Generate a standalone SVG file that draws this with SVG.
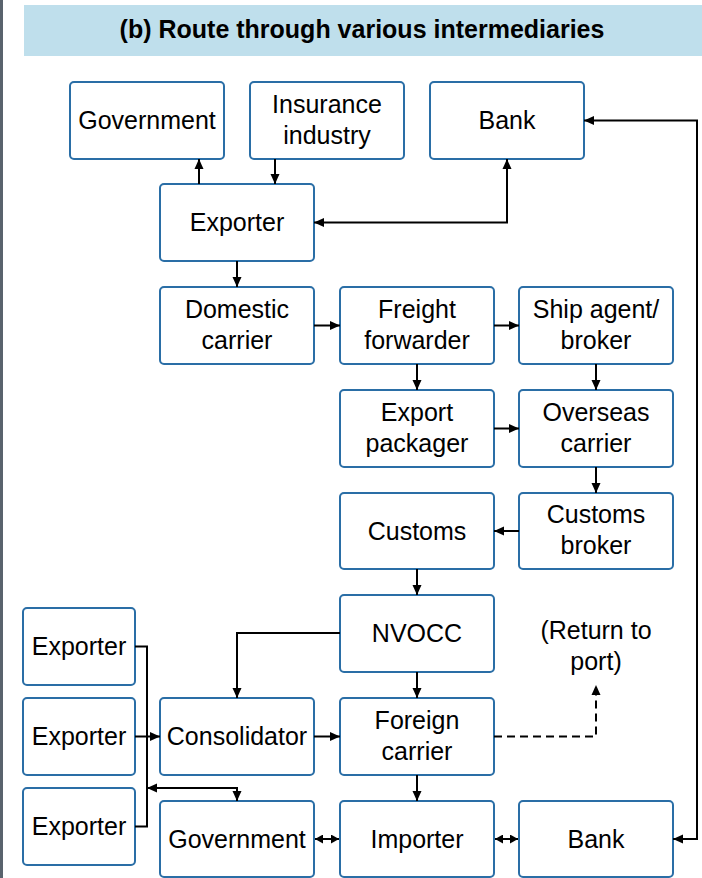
<svg xmlns="http://www.w3.org/2000/svg" width="702" height="878" viewBox="0 0 702 878">
<style>
.box{fill:#fff;stroke:#2a6ea6;stroke-width:2}
.t{font-family:"Liberation Sans",Arial,sans-serif;font-size:25px;fill:#000;text-anchor:middle}
.title{font-family:"Liberation Sans",Arial,sans-serif;font-size:25px;font-weight:bold;fill:#000;text-anchor:middle}
.c{fill:none;stroke:#000;stroke-width:2}
.e{marker-end:url(#ah)}
.s{marker-start:url(#ahs)}
.se{marker-start:url(#sms);marker-end:url(#sm)}
.d{stroke-dasharray:8 5}
</style>
<defs>
<marker id="ah" markerUnits="userSpaceOnUse" markerWidth="10" markerHeight="10" refX="10" refY="5" orient="auto" viewBox="0 0 10 10">
<path d="M0,0.5 L10,5 L0,9.5 z" fill="#000"/>
</marker>
<marker id="ahs" markerUnits="userSpaceOnUse" markerWidth="10" markerHeight="10" refX="10" refY="5" orient="auto-start-reverse" viewBox="0 0 10 10">
<path d="M0,0.5 L10,5 L0,9.5 z" fill="#000"/>
</marker>
<marker id="sm" markerUnits="userSpaceOnUse" markerWidth="8" markerHeight="9" refX="8" refY="4.5" orient="auto" viewBox="0 0 8 9">
<path d="M0,0 L8,4.5 L0,9 z" fill="#000"/>
</marker>
<marker id="sms" markerUnits="userSpaceOnUse" markerWidth="8" markerHeight="9" refX="8" refY="4.5" orient="auto-start-reverse" viewBox="0 0 8 9">
<path d="M0,0 L8,4.5 L0,9 z" fill="#000"/>
</marker>
</defs>
<rect x="0" y="0" width="702" height="878" fill="#fff"/>
<rect x="0" y="0" width="3" height="878" fill="#59636d"/>
<g id="title">
<rect x="24" y="5" width="678" height="51" fill="#bfdfec"/>
<text class="title" x="362" y="38">(b) Route through various intermediaries</text>
</g>
<g id="government-top"><rect class="box" x="70" y="82" width="154" height="77" rx="4"/><text class="t" x="147" y="129">Government</text></g>
<g id="insurance"><rect class="box" x="250" y="82" width="154" height="77" rx="4"/><text class="t" x="327" y="112.5">Insurance</text><text class="t" x="327" y="143.5">industry</text></g>
<g id="bank-top"><rect class="box" x="430" y="82" width="154" height="77" rx="4"/><text class="t" x="507" y="129">Bank</text></g>
<g id="exporter-main"><rect class="box" x="160" y="184" width="154" height="77" rx="4"/><text class="t" x="237" y="231">Exporter</text></g>
<g id="domestic-carrier"><rect class="box" x="160" y="287" width="154" height="77" rx="4"/><text class="t" x="237" y="317.5">Domestic</text><text class="t" x="237" y="348.5">carrier</text></g>
<g id="freight-forwarder"><rect class="box" x="340" y="287" width="154" height="77" rx="4"/><text class="t" x="417" y="317.5">Freight</text><text class="t" x="417" y="348.5">forwarder</text></g>
<g id="ship-agent"><rect class="box" x="519" y="287" width="154" height="77" rx="4"/><text class="t" x="596" y="317.5">Ship agent/</text><text class="t" x="596" y="348.5">broker</text></g>
<g id="export-packager"><rect class="box" x="340" y="390" width="154" height="77" rx="4"/><text class="t" x="417" y="420.5">Export</text><text class="t" x="417" y="451.5">packager</text></g>
<g id="overseas-carrier"><rect class="box" x="519" y="390" width="154" height="77" rx="4"/><text class="t" x="596" y="420.5">Overseas</text><text class="t" x="596" y="451.5">carrier</text></g>
<g id="customs"><rect class="box" x="340" y="493" width="154" height="76" rx="4"/><text class="t" x="417" y="539.5">Customs</text></g>
<g id="customs-broker"><rect class="box" x="519" y="493" width="154" height="76" rx="4"/><text class="t" x="596" y="523">Customs</text><text class="t" x="596" y="554">broker</text></g>
<g id="nvocc"><rect class="box" x="340" y="595" width="154" height="77" rx="4"/><text class="t" x="417" y="642">NVOCC</text></g>
<g id="return-label"><text class="t" x="596" y="639">(Return to</text><text class="t" x="596" y="670">port)</text></g>
<g id="exporter-1"><rect class="box" x="23" y="608" width="112" height="77" rx="4"/><text class="t" x="79" y="655">Exporter</text></g>
<g id="exporter-2"><rect class="box" x="23" y="698" width="112" height="77" rx="4"/><text class="t" x="79" y="745">Exporter</text></g>
<g id="exporter-3"><rect class="box" x="23" y="788" width="112" height="77" rx="4"/><text class="t" x="79" y="835">Exporter</text></g>
<g id="consolidator"><rect class="box" x="160" y="698" width="154" height="77" rx="4"/><text class="t" x="237" y="745">Consolidator</text></g>
<g id="foreign-carrier"><rect class="box" x="340" y="698" width="154" height="77" rx="4"/><text class="t" x="417" y="728.5">Foreign</text><text class="t" x="417" y="759.5">carrier</text></g>
<g id="government-bottom"><rect class="box" x="160" y="801" width="154" height="76" rx="4"/><text class="t" x="237" y="847.5">Government</text></g>
<g id="importer"><rect class="box" x="340" y="801" width="154" height="76" rx="4"/><text class="t" x="417" y="847.5">Importer</text></g>
<g id="bank-bottom"><rect class="box" x="519" y="801" width="154" height="76" rx="4"/><text class="t" x="596" y="847.5">Bank</text></g>
<g id="connectors">
<path class="c e" d="M199,184 V159"/>
<path class="c e" d="M275,159 V184"/>
<path class="c e s" d="M314,222.5 H507 V159"/>
<path class="c e" d="M237,261 V287"/>
<path class="c e" d="M314,325.5 H340"/>
<path class="c e" d="M494,325.5 H519"/>
<path class="c e" d="M417,364 V390"/>
<path class="c e" d="M596,364 V390"/>
<path class="c e" d="M494,428.5 H519"/>
<path class="c e" d="M596,467 V493"/>
<path class="c e" d="M519,531 H494"/>
<path class="c e" d="M417,569 V595"/>
<path class="c e" d="M340,633 H237 V698"/>
<path class="c e" d="M417,672 V698"/>
<path class="c e" d="M314,736.5 H340"/>
<path class="c e d" d="M494,736.5 H596 V685"/>
<path class="c e" d="M417,775 V801"/>
<path class="c se" d="M315,839 H339"/>
<path class="c se" d="M495,839 H518"/>
<path class="c e s" d="M584,120.5 H697 V839 H673"/>
<path class="c" d="M135,646.5 H147 V826.5 H135"/>
<path class="c e" d="M135,736.5 H160"/>
<path class="c e s" d="M147,788 H237 V801"/>
</g>
</svg>
